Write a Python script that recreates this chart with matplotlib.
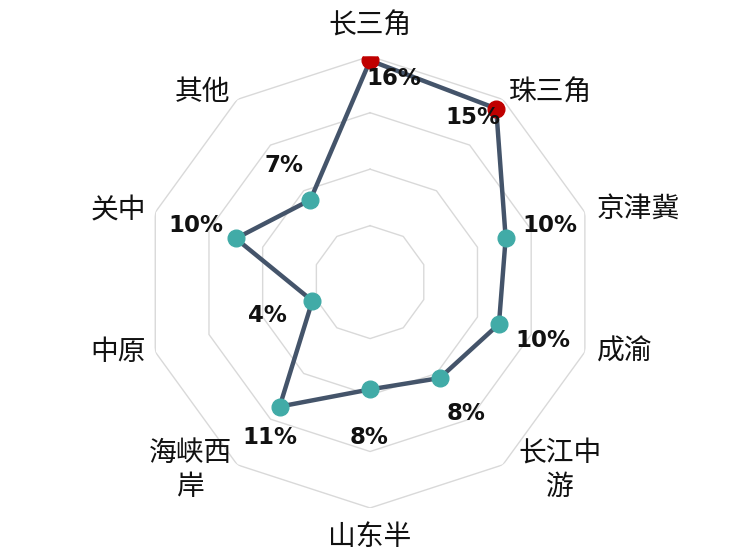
import numpy as np
import matplotlib
matplotlib.use('Agg')
import matplotlib.pyplot as plt

plt.rcParams['font.family'] = ['Noto Sans CJK SC', 'DejaVu Sans']

# Categorias e valores (%)
regioes = ['长三角', '珠三角', '京津冀', '成渝', '长江中\n游', '山东半', '海峡西\n岸', '中原', '关中', '其他']
valores = [15.7, 15.2, 10.1, 9.6, 8.4, 7.6, 10.9, 4.3, 10.0, 7.2]
destaque = [True, True, False, False, False, False, False, False, False, False]
aneis = [4, 8, 12, 16]

# deslocamentos (pixels, y para baixo) dos rótulos
off_pct = [(24, 18), (-23, 9), (44, -13), (44, 17), (26, 35),
           (-1, 48), (-10, 31), (-45, 15), (-40, -13), (-26, -34)]
off_cat = [(0, -31), (48, -7), (53, -4), (40, 0), (57, 5),
           (0, 29), (-47, 5), (-37, 0), (-37, -2), (-35, -7)]

n = len(regioes)
ang = np.arange(n) * 2 * np.pi / n

fig = plt.figure(figsize=(7.35, 5.57), dpi=100)
ax = fig.add_axes([0.196, 0.088, 0.615, 0.811], projection='polar')
ax.set_theta_zero_location('N')
ax.set_theta_direction(-1)
ax.set_ylim(0, 16)
ax.grid(False)
ax.spines['polar'].set_visible(False)
ax.set_xticks([])
ax.set_yticks([])

# grade em forma de decágono
for r in aneis:
    ax.plot(np.append(ang, ang[0]), [r] * (n + 1), color='#D9D9D9', lw=1, zorder=1)

ax.plot(np.append(ang, ang[0]), valores + [valores[0]], color='#44546A', lw=3.2, zorder=2)
for a, v, d in zip(ang, valores, destaque):
    ax.plot(a, v, 'o', ms=12, color='#C00000' if d else '#41ABA7', zorder=3)

for a, v, o in zip(ang, valores, off_pct):
    ax.annotate(f'{v:.0f}%', (a, v), xytext=(o[0], -o[1]), textcoords='offset pixels',
                ha='center', va='center', fontsize=16.5, fontweight='bold',
                family=['DejaVu Sans'], color='#111111', zorder=4)

for a, nome, o in zip(ang, regioes, off_cat):
    ax.annotate(nome, (a, 16), xytext=(o[0], -o[1]), textcoords='offset pixels',
                ha='center', va='center', fontsize=20, color='#111111',
                linespacing=1.2, annotation_clip=False)

plt.savefig('out.png', dpi=100)
